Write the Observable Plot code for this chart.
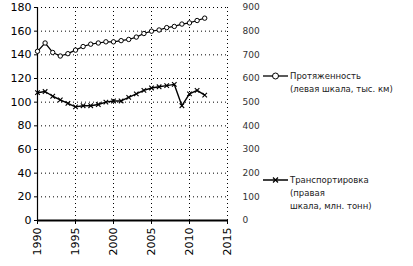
<!DOCTYPE html>
<html>
<head>
<meta charset="utf-8">
<script src="https://cdn.jsdelivr.net/npm/d3@7"></script>
<script src="https://cdn.jsdelivr.net/npm/@observablehq/plot@0.6"></script>
<style>
  html, body { margin: 0; padding: 0; background: #fff; }
  #wrap { position: relative; width: 413px; height: 266px; font-family: "DejaVu Sans", sans-serif; }
  #chart { position: absolute; left: 0; top: 0; }
  .leg { position: absolute; font-size: 8.5px; color: #222; line-height: 13px; }
  .leg svg { position: absolute; left: -28px; top: 0; }
</style>
</head>
<body>
<div id="wrap">
  <div id="chart"></div>
  <div class="leg" id="leg1" style="left:290px; top:70px; width:122px;"></div>
  <div class="leg" id="leg2" style="left:290px; top:174px; width:110px;"></div>
</div>
<script>
const years = [1990,1991,1992,1993,1994,1995,1996,1997,1998,1999,2000,2001,2002,2003,2004,2005,2006,2007,2008,2009,2010,2011,2012];
// Протяженность, тыс. км (левая шкала)
const lengthKm = [143,150,142,139,141,144,147,149,150,151,151,152,153,155,158,160,161,163,164,166,167,169,171];
// Транспортировка, млн. тонн (правая шкала)
const transport = [540,545,525,510,495,480,485,485,490,500,505,505,520,535,550,560,565,570,575,485,535,550,530];
const leftTicks = [0,20,40,60,80,100,120,140,160,180];
const rightTicks = [0,100,200,300,400,500,600,700,800,900];
const xTicks = [1990,1995,2000,2005,2010,2015];
const label1 = ["Протяженность", "(левая шкала, тыс. км)"];
const label2 = ["Транспортировка", "(правая", "шкала, млн. тонн)"];

const ratio = 900 / 180;
const s1 = years.map((y, i) => ({year: y, v: lengthKm[i]}));
const s2 = years.map((y, i) => ({year: y, v: transport[i] / ratio}));

const grid = {stroke: "#000", strokeOpacity: 1, strokeDasharray: "1,3", strokeWidth: 1};

const chart = Plot.plot({
  width: 262,
  height: 266,
  marginLeft: 37,
  marginRight: 35,
  marginTop: 7,
  marginBottom: 46,
  style: {fontFamily: "DejaVu Sans, sans-serif", background: "#fff", color: "#000"},
  x: {domain: [1990, 2015]},
  y: {domain: [0, 180]},
  marks: [
    Plot.gridY(leftTicks.slice(1), grid),
    Plot.gridX(xTicks.slice(1), grid),
    Plot.axisY(leftTicks, {anchor: "left", tickSize: 3, tickPadding: 3, fontSize: 11, label: null}),
    Plot.axisY(rightTicks.map(v => v / ratio), {anchor: "right", tickSize: 0, tickPadding: 15, fontSize: 9, fill: "#333", tickFormat: d => String(Math.round(d * ratio)), label: null}),
    Plot.axisX(xTicks, {tickRotate: -90, tickSize: 4, tickPadding: 3, fontSize: 11, tickFormat: d => String(d), label: null}),
    Plot.ruleX([1990], {stroke: "#000", strokeWidth: 1.2}),
    Plot.ruleY([0], {stroke: "#000", strokeWidth: 2}),
    Plot.line(s1, {x: "year", y: "v", stroke: "#000", strokeWidth: 1.2}),
    Plot.dot(s1, {x: "year", y: "v", r: 2.2, stroke: "#000", fill: "#fff", strokeWidth: 1}),
    Plot.line(s2, {x: "year", y: "v", stroke: "#000", strokeWidth: 1.4}),
    Plot.dot(s2, {x: "year", y: "v", symbol: "times", r: 2.2, stroke: "#000", strokeWidth: 1.1})
  ]
});
document.getElementById("chart").appendChild(chart);

function legend(el, lines, symbol) {
  const marker = symbol === "circle"
    ? '<line x1="1" y1="6" x2="26" y2="6" stroke="#000" stroke-width="1.3"/><circle cx="13.5" cy="6" r="3" fill="#fff" stroke="#000"/>'
    : '<line x1="1" y1="6" x2="26" y2="6" stroke="#000" stroke-width="1.5"/><path d="M11,3.5L16,8.5M16,3.5L11,8.5" stroke="#000" stroke-width="1.2"/>';
  el.innerHTML = '<svg width="27" height="12">' + marker + '</svg>' + lines.map(t => '<div>' + t + '</div>').join("");
}
legend(document.getElementById("leg1"), label1, "circle");
legend(document.getElementById("leg2"), label2, "times");
</script>
</body>
</html>
